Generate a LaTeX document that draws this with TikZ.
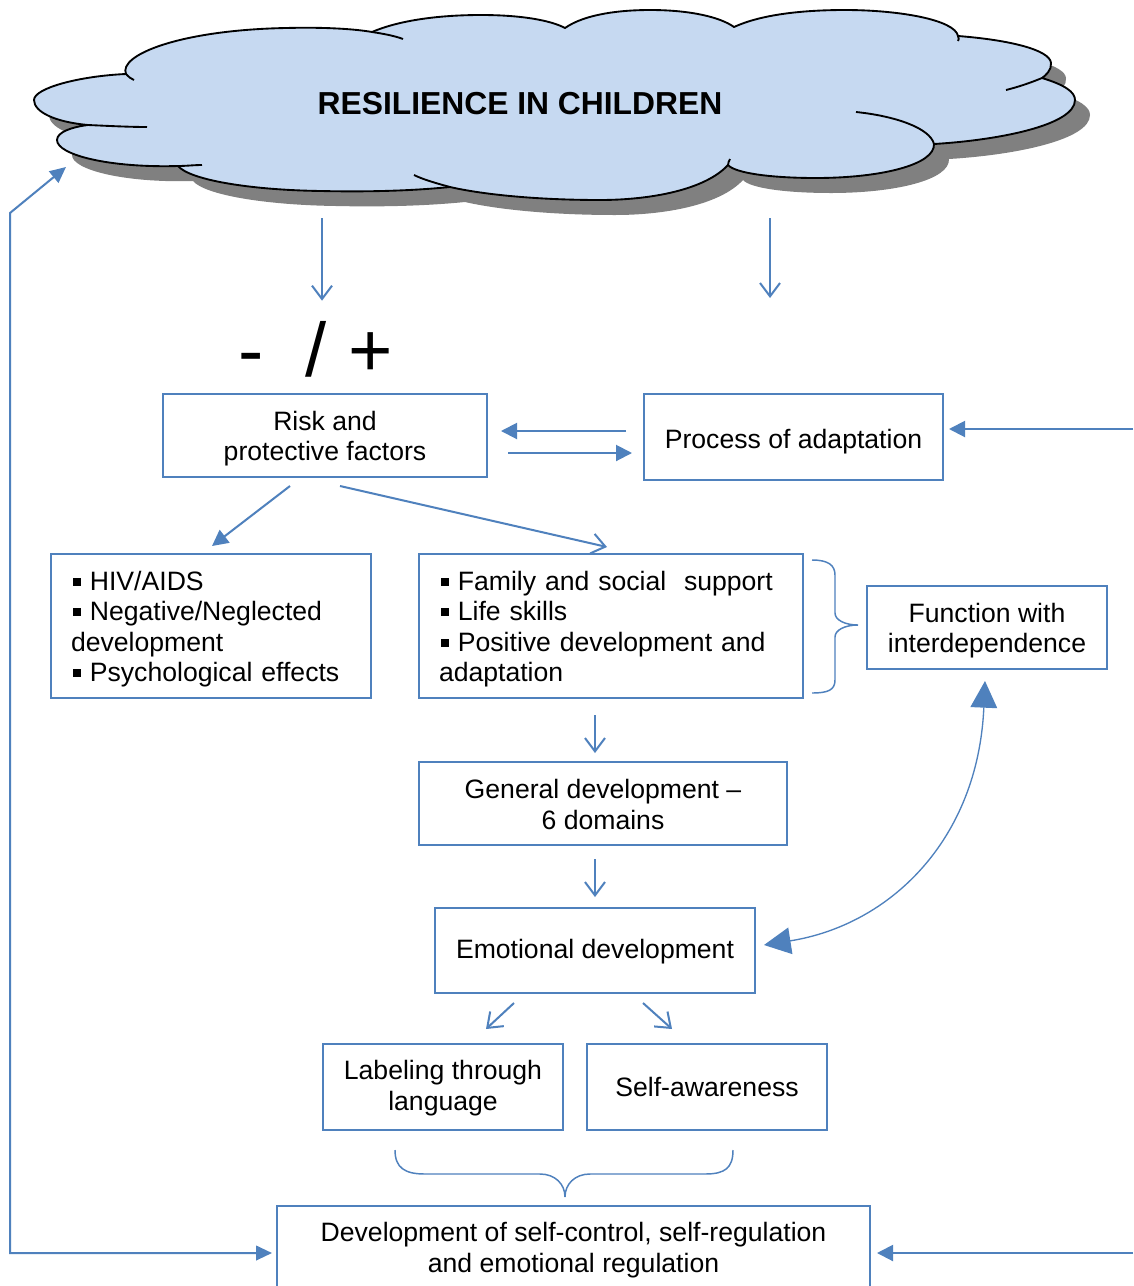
\documentclass[tikz,border=0pt]{standalone}
\usepackage{fontspec}
\setmainfont{Liberation Sans}
\usetikzlibrary{arrows.meta,calc}
\definecolor{bblue}{HTML}{4F81BD}
\definecolor{cloudfill}{HTML}{C6D9F1}
\definecolor{cldshadow}{HTML}{808080}
\newcommand\bul{\hspace*{0.07em}\raisebox{0.17em}{\rule{0.3em}{0.3em}}\hspace{0.34em}}
\newcommand\fs{\fontsize{19.95}{22.9}\selectfont}
\newcommand\tallstrut[1]{\rule{0pt}{#1}}
\def\cldpath{(88,125) .. controls (55,122) and (34,112) .. (34,100)
 .. controls (34,88) and (80,76) .. (126,74)
 .. controls (118,55) and (180,30) .. (286,28)
 .. controls (325,27) and (355,29) .. (372,32)
 .. controls (400,20) and (440,15) .. (481,15)
 .. controls (520,15) and (550,20) .. (565,28)
 .. controls (585,14) and (620,10) .. (650,10)
 .. controls (690,10) and (720,17) .. (734,27)
 .. controls (760,15) and (800,10) .. (845,10)
 .. controls (900,10) and (955,20) .. (958,36)
 .. controls (1010,40) and (1050,50) .. (1051,63)
 .. controls (1052,70) and (1045,76) .. (1042,78)
 .. controls (1065,85) and (1075,92) .. (1075,100)
 .. controls (1075,125) and (1000,140) .. (934,144)
 .. controls (935,165) and (880,178) .. (816,178)
 .. controls (770,178) and (735,173) .. (728,165)
 .. controls (705,190) and (650,200) .. (600,200)
 .. controls (540,200) and (485,195) .. (450,187)
 .. controls (410,191) and (365,192) .. (321,191)
 .. controls (250,190) and (190,180) .. (178,166)
 .. controls (110,168) and (57,155) .. (57,140)
 .. controls (57,132) and (72,127) .. (88,125) -- cycle}
\tikzset{
  box/.style={draw=bblue, line width=1.5pt, align=center, inner sep=0pt, font=\fs},
  listbox/.style={box, align=left, inner xsep=15pt},
  ln/.style={draw=bblue, line width=1.5pt},
  fa/.style={ln, -{Triangle[length=12pt,width=12pt]}},
  oa/.style={ln, -{Straight Barb[length=10pt,width=15pt]}},
  cloudline/.style={draw=black, line width=1.4pt},
  bracestyle/.style={draw=bblue, line width=1.1pt},
}
\begin{document}
\begin{tikzpicture}[x=0.75pt,y=-0.75pt]
\useasboundingbox (0,0) rectangle (1133,1286);
\fill[white] (0,0) rectangle (1133,1286);

% cloud
\begin{scope}[shift={(15,15)}]
  \fill[cldshadow] \cldpath;
\end{scope}
\fill[cloudfill] \cldpath;
\draw[cloudline, line join=round] \cldpath;
\draw[cloudline] (88,125) .. controls (110,126) and (130,127) .. (147,127);
\draw[cloudline] (126,74) .. controls (129,77) and (131,79) .. (134,80);
\draw[cloudline] (372,32) .. controls (385,34) and (395,36) .. (403,39);
\draw[cloudline] (958,36) .. controls (959,38) and (959,40) .. (958,41);
\draw[cloudline] (1042,78) .. controls (1030,83) and (1018,87) .. (1006,90);
\draw[cloudline] (856,112) .. controls (895,116) and (930,128) .. (934,144);
\draw[cloudline] (728,165) .. controls (728,163) and (729,161) .. (730,159);
\draw[cloudline] (450,187) .. controls (435,183) and (422,179) .. (414,175);
\draw[cloudline] (178,166) .. controls (186,166) and (194,165) .. (202,165);

\node (title) at (520,104) {\fontsize{23.85}{27}\selectfont\bfseries RESILIENCE IN CHILDREN};

% sign
\node (sign) [anchor=base west, inner sep=0pt] at (238,376) {\fontsize{57}{60}\selectfont -\ \ / +};

% boxes
\node (risk) [box, minimum width=243pt, minimum height=62.25pt] at (325,435.5) {\tallstrut{19pt}Risk and\\protective factors};
\node (proc) [box, minimum width=224.25pt, minimum height=64.5pt] at (793.5,437) {\tallstrut{21.6pt}Process of adaptation};
\node (hiv) [listbox, text width=210pt, minimum height=108pt] at (211,626)
  {\tallstrut{19pt}\bul HIV/AIDS\\\bul Negative/Neglected\\development\\\bul Psychological effects};
\node (mid) [listbox, text width=258pt, minimum height=108pt] at (611,626)
  {\tallstrut{19pt}\bul Family and social\ \ support\\\bul Life skills\\\bul Positive development and\\adaptation};
\node (func) [box, minimum width=180pt, minimum height=62.25pt] at (987,627.5) {\tallstrut{19pt}Function with\\interdependence};
\node (gen) [box, minimum width=276pt, minimum height=62.25pt] at (603,803.5) {\tallstrut{16.1pt}General development –\\6 domains};
\node (emo) [box, minimum width=240pt, minimum height=63.75pt] at (595,950.5) {\tallstrut{16.1pt}Emotional development};
\node (lab) [box, minimum width=180pt, minimum height=64.5pt] at (443,1087) {\tallstrut{16.1pt}Labeling through\\language};
\node (self) [box, minimum width=180pt, minimum height=64.5pt] at (707,1087) {Self-awareness};
\node (bot) [box, minimum width=444.75pt, minimum height=62.25pt] at (573.5,1247.5) {\tallstrut{18.4pt}Development of self-control, self-regulation\\and emotional regulation};

% free ends
\coordinate (cA) at (322,218);
\coordinate (cB) at (770,218);
\coordinate (cBend) at (770,298);
\coordinate (rA) at (1133,429);
\coordinate (rB) at (1133,1253);
\coordinate (fbTip) at (66,167);
\coordinate (fbCorner) at (10,213);

% connectors
\draw[oa] (cA) -- ($(sign.north west)+(84,-20)$);
\draw[oa] (cB) -- (cBend);
\draw[fa] ($(proc.west)+(-17,-6)$) -- ($(risk.east)+(13,-4.5)$);
\draw[fa] ($(risk.east)+(20,17.5)$) -- ($(proc.west)+(-11,16)$);
\draw[fa] (rA) -- ($(proc.east)+(5,-8)$);
\draw[fa] ($(risk.south)+(-35,8)$) -- ($(hiv.north)+(1,-7)$);
\draw[oa] ($(risk.south)+(15,8)$) -- ($(mid.north)+(-4,-6)$);
\draw[oa] ($(mid.south)+(-16,16)$) -- ($(gen.north)+(-8,-8)$);
\draw[oa] ($(gen.south)+(-8,13)$) -- ($(emo.north)+(0,-10)$);
\draw[oa] ($(emo.south)+(-81,9)$) -- ($(lab.north)+(43,-14)$);
\draw[oa] ($(emo.south)+(48,9)$) -- ($(self.north)+(-35,-14)$);
\draw[draw=bblue, line width=1pt, {Triangle[length=20pt,width=20pt]}-{Triangle[length=20pt,width=20pt]}]
  ($(func.south)+(-2,11)$) .. controls (978,840) and (890,925) .. ($(emo.east)+(8,-5.5)$);
\draw[ln, {Triangle[length=12pt,width=11pt]}-{Triangle[length=12pt,width=11pt]}]
  (fbTip) -- (fbCorner) |- ($(bot.west)+(-4,5.5)$);
\draw[fa] (rB) -- ($(bot.east)+(6,5.5)$);

% braces
\draw[bracestyle] (812,560) .. controls (828,560) and (835,565) .. (835,575) -- (835,613)
  .. controls (835,620) and (845,625) .. (858,625)
  .. controls (845,625) and (835,630) .. (835,637) -- (835,680)
  .. controls (835,690) and (828,693) .. (812,693);
\draw[bracestyle] (395,1150) .. controls (395,1168) and (405,1174) .. (425,1174) -- (540,1174)
  .. controls (555,1174) and (565,1184) .. (565,1197)
  .. controls (565,1184) and (575,1174) .. (590,1174) -- (705,1174)
  .. controls (725,1174) and (733,1168) .. (733,1150);
\end{tikzpicture}
\end{document}
